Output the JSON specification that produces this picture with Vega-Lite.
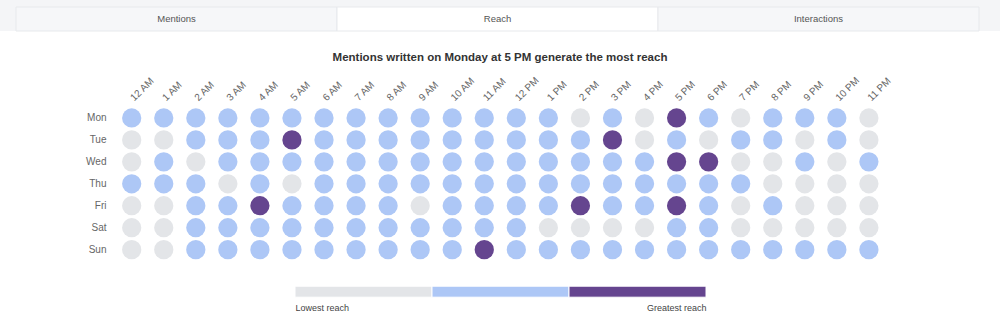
{
  "$schema": "https://vega.github.io/schema/vega-lite/v6.json",
  "background": "white",
  "padding": 0,
  "spacing": 20,
  "resolve": {"scale": {"color": "independent", "x": "independent", "y": "independent"}},
  "config": {"view": {"stroke": null}, "font": "Liberation Sans"},
  "vconcat": [
    {
      "width": 1000,
      "height": 31,
      "view": {"fill": "#f4f5f7", "stroke": null},
      "data": {"values": [
        {"tab": "Mentions", "state": "unselected", "group": "tabs"},
        {"tab": "Reach", "state": "selected", "group": "tabs"},
        {"tab": "Interactions", "state": "unselected", "group": "tabs"}
      ]},
      "encoding": {
        "x": {"field": "tab", "type": "nominal", "sort": null, "axis": null,
              "scale": {"type": "band", "range": [16, 979], "paddingInner": 0, "paddingOuter": 0}},
        "y": {"field": "group", "type": "nominal", "axis": null,
              "scale": {"type": "band", "paddingInner": 0, "paddingOuter": 0.14583, "align": 1}}
      },
      "layer": [
        {"mark": {"type": "bar", "stroke": "#e7e9ec", "strokeWidth": 1},
         "encoding": {"color": {"field": "state", "type": "nominal", "legend": null,
           "scale": {"domain": ["unselected", "selected"], "range": ["#f6f7f9", "#ffffff"]}}}},
        {"mark": {"type": "text", "fontSize": 9.5, "color": "#555555"},
         "encoding": {"text": {"field": "tab"}}}
      ]
    },
    {
      "width": 1000,
      "height": 153.6,
      "title": {"text": "Mentions written on Monday at 5 PM generate the most reach", "fontSize": 11.5, "fontWeight": "bold", "color": "#333333", "offset": 11.5, "anchor": "middle"},
      "data": {"values": [
        {"day":"Mon","hour":"12 AM","reach":"Medium"},{"day":"Mon","hour":"1 AM","reach":"Medium"},{"day":"Mon","hour":"2 AM","reach":"Medium"},{"day":"Mon","hour":"3 AM","reach":"Medium"},{"day":"Mon","hour":"4 AM","reach":"Medium"},{"day":"Mon","hour":"5 AM","reach":"Medium"},{"day":"Mon","hour":"6 AM","reach":"Medium"},{"day":"Mon","hour":"7 AM","reach":"Medium"},{"day":"Mon","hour":"8 AM","reach":"Medium"},{"day":"Mon","hour":"9 AM","reach":"Medium"},{"day":"Mon","hour":"10 AM","reach":"Medium"},{"day":"Mon","hour":"11 AM","reach":"Medium"},
        {"day":"Mon","hour":"12 PM","reach":"Medium"},{"day":"Mon","hour":"1 PM","reach":"Medium"},{"day":"Mon","hour":"2 PM","reach":"Low"},{"day":"Mon","hour":"3 PM","reach":"Medium"},{"day":"Mon","hour":"4 PM","reach":"Low"},{"day":"Mon","hour":"5 PM","reach":"High"},{"day":"Mon","hour":"6 PM","reach":"Medium"},{"day":"Mon","hour":"7 PM","reach":"Low"},{"day":"Mon","hour":"8 PM","reach":"Medium"},{"day":"Mon","hour":"9 PM","reach":"Medium"},{"day":"Mon","hour":"10 PM","reach":"Medium"},{"day":"Mon","hour":"11 PM","reach":"Low"},
        {"day":"Tue","hour":"12 AM","reach":"Low"},{"day":"Tue","hour":"1 AM","reach":"Low"},{"day":"Tue","hour":"2 AM","reach":"Medium"},{"day":"Tue","hour":"3 AM","reach":"Medium"},{"day":"Tue","hour":"4 AM","reach":"Medium"},{"day":"Tue","hour":"5 AM","reach":"High"},{"day":"Tue","hour":"6 AM","reach":"Medium"},{"day":"Tue","hour":"7 AM","reach":"Medium"},{"day":"Tue","hour":"8 AM","reach":"Medium"},{"day":"Tue","hour":"9 AM","reach":"Medium"},{"day":"Tue","hour":"10 AM","reach":"Medium"},{"day":"Tue","hour":"11 AM","reach":"Medium"},
        {"day":"Tue","hour":"12 PM","reach":"Medium"},{"day":"Tue","hour":"1 PM","reach":"Medium"},{"day":"Tue","hour":"2 PM","reach":"Medium"},{"day":"Tue","hour":"3 PM","reach":"High"},{"day":"Tue","hour":"4 PM","reach":"Low"},{"day":"Tue","hour":"5 PM","reach":"Medium"},{"day":"Tue","hour":"6 PM","reach":"Low"},{"day":"Tue","hour":"7 PM","reach":"Medium"},{"day":"Tue","hour":"8 PM","reach":"Medium"},{"day":"Tue","hour":"9 PM","reach":"Low"},{"day":"Tue","hour":"10 PM","reach":"Medium"},{"day":"Tue","hour":"11 PM","reach":"Low"},
        {"day":"Wed","hour":"12 AM","reach":"Low"},{"day":"Wed","hour":"1 AM","reach":"Medium"},{"day":"Wed","hour":"2 AM","reach":"Low"},{"day":"Wed","hour":"3 AM","reach":"Medium"},{"day":"Wed","hour":"4 AM","reach":"Medium"},{"day":"Wed","hour":"5 AM","reach":"Medium"},{"day":"Wed","hour":"6 AM","reach":"Medium"},{"day":"Wed","hour":"7 AM","reach":"Medium"},{"day":"Wed","hour":"8 AM","reach":"Medium"},{"day":"Wed","hour":"9 AM","reach":"Medium"},{"day":"Wed","hour":"10 AM","reach":"Medium"},{"day":"Wed","hour":"11 AM","reach":"Medium"},
        {"day":"Wed","hour":"12 PM","reach":"Medium"},{"day":"Wed","hour":"1 PM","reach":"Medium"},{"day":"Wed","hour":"2 PM","reach":"Medium"},{"day":"Wed","hour":"3 PM","reach":"Medium"},{"day":"Wed","hour":"4 PM","reach":"Medium"},{"day":"Wed","hour":"5 PM","reach":"High"},{"day":"Wed","hour":"6 PM","reach":"High"},{"day":"Wed","hour":"7 PM","reach":"Low"},{"day":"Wed","hour":"8 PM","reach":"Low"},{"day":"Wed","hour":"9 PM","reach":"Medium"},{"day":"Wed","hour":"10 PM","reach":"Low"},{"day":"Wed","hour":"11 PM","reach":"Medium"},
        {"day":"Thu","hour":"12 AM","reach":"Medium"},{"day":"Thu","hour":"1 AM","reach":"Medium"},{"day":"Thu","hour":"2 AM","reach":"Medium"},{"day":"Thu","hour":"3 AM","reach":"Low"},{"day":"Thu","hour":"4 AM","reach":"Medium"},{"day":"Thu","hour":"5 AM","reach":"Low"},{"day":"Thu","hour":"6 AM","reach":"Medium"},{"day":"Thu","hour":"7 AM","reach":"Medium"},{"day":"Thu","hour":"8 AM","reach":"Medium"},{"day":"Thu","hour":"9 AM","reach":"Medium"},{"day":"Thu","hour":"10 AM","reach":"Medium"},{"day":"Thu","hour":"11 AM","reach":"Medium"},
        {"day":"Thu","hour":"12 PM","reach":"Medium"},{"day":"Thu","hour":"1 PM","reach":"Medium"},{"day":"Thu","hour":"2 PM","reach":"Medium"},{"day":"Thu","hour":"3 PM","reach":"Medium"},{"day":"Thu","hour":"4 PM","reach":"Medium"},{"day":"Thu","hour":"5 PM","reach":"Medium"},{"day":"Thu","hour":"6 PM","reach":"Medium"},{"day":"Thu","hour":"7 PM","reach":"Medium"},{"day":"Thu","hour":"8 PM","reach":"Low"},{"day":"Thu","hour":"9 PM","reach":"Low"},{"day":"Thu","hour":"10 PM","reach":"Low"},{"day":"Thu","hour":"11 PM","reach":"Low"},
        {"day":"Fri","hour":"12 AM","reach":"Low"},{"day":"Fri","hour":"1 AM","reach":"Low"},{"day":"Fri","hour":"2 AM","reach":"Medium"},{"day":"Fri","hour":"3 AM","reach":"Medium"},{"day":"Fri","hour":"4 AM","reach":"High"},{"day":"Fri","hour":"5 AM","reach":"Medium"},{"day":"Fri","hour":"6 AM","reach":"Medium"},{"day":"Fri","hour":"7 AM","reach":"Medium"},{"day":"Fri","hour":"8 AM","reach":"Medium"},{"day":"Fri","hour":"9 AM","reach":"Low"},{"day":"Fri","hour":"10 AM","reach":"Medium"},{"day":"Fri","hour":"11 AM","reach":"Medium"},
        {"day":"Fri","hour":"12 PM","reach":"Medium"},{"day":"Fri","hour":"1 PM","reach":"Medium"},{"day":"Fri","hour":"2 PM","reach":"High"},{"day":"Fri","hour":"3 PM","reach":"Medium"},{"day":"Fri","hour":"4 PM","reach":"Medium"},{"day":"Fri","hour":"5 PM","reach":"High"},{"day":"Fri","hour":"6 PM","reach":"Medium"},{"day":"Fri","hour":"7 PM","reach":"Low"},{"day":"Fri","hour":"8 PM","reach":"Medium"},{"day":"Fri","hour":"9 PM","reach":"Low"},{"day":"Fri","hour":"10 PM","reach":"Low"},{"day":"Fri","hour":"11 PM","reach":"Low"},
        {"day":"Sat","hour":"12 AM","reach":"Low"},{"day":"Sat","hour":"1 AM","reach":"Low"},{"day":"Sat","hour":"2 AM","reach":"Medium"},{"day":"Sat","hour":"3 AM","reach":"Medium"},{"day":"Sat","hour":"4 AM","reach":"Medium"},{"day":"Sat","hour":"5 AM","reach":"Medium"},{"day":"Sat","hour":"6 AM","reach":"Medium"},{"day":"Sat","hour":"7 AM","reach":"Medium"},{"day":"Sat","hour":"8 AM","reach":"Medium"},{"day":"Sat","hour":"9 AM","reach":"Medium"},{"day":"Sat","hour":"10 AM","reach":"Medium"},{"day":"Sat","hour":"11 AM","reach":"Medium"},
        {"day":"Sat","hour":"12 PM","reach":"Medium"},{"day":"Sat","hour":"1 PM","reach":"Low"},{"day":"Sat","hour":"2 PM","reach":"Low"},{"day":"Sat","hour":"3 PM","reach":"Low"},{"day":"Sat","hour":"4 PM","reach":"Low"},{"day":"Sat","hour":"5 PM","reach":"Medium"},{"day":"Sat","hour":"6 PM","reach":"Medium"},{"day":"Sat","hour":"7 PM","reach":"Low"},{"day":"Sat","hour":"8 PM","reach":"Low"},{"day":"Sat","hour":"9 PM","reach":"Low"},{"day":"Sat","hour":"10 PM","reach":"Low"},{"day":"Sat","hour":"11 PM","reach":"Low"},
        {"day":"Sun","hour":"12 AM","reach":"Low"},{"day":"Sun","hour":"1 AM","reach":"Low"},{"day":"Sun","hour":"2 AM","reach":"Medium"},{"day":"Sun","hour":"3 AM","reach":"Medium"},{"day":"Sun","hour":"4 AM","reach":"Medium"},{"day":"Sun","hour":"5 AM","reach":"Medium"},{"day":"Sun","hour":"6 AM","reach":"Medium"},{"day":"Sun","hour":"7 AM","reach":"Medium"},{"day":"Sun","hour":"8 AM","reach":"Medium"},{"day":"Sun","hour":"9 AM","reach":"Medium"},{"day":"Sun","hour":"10 AM","reach":"Medium"},{"day":"Sun","hour":"11 AM","reach":"High"},
        {"day":"Sun","hour":"12 PM","reach":"Medium"},{"day":"Sun","hour":"1 PM","reach":"Medium"},{"day":"Sun","hour":"2 PM","reach":"Medium"},{"day":"Sun","hour":"3 PM","reach":"Medium"},{"day":"Sun","hour":"4 PM","reach":"Medium"},{"day":"Sun","hour":"5 PM","reach":"Medium"},{"day":"Sun","hour":"6 PM","reach":"Medium"},{"day":"Sun","hour":"7 PM","reach":"Medium"},{"day":"Sun","hour":"8 PM","reach":"Medium"},{"day":"Sun","hour":"9 PM","reach":"Medium"},{"day":"Sun","hour":"10 PM","reach":"Medium"},{"day":"Sun","hour":"11 PM","reach":"Medium"}
      ]},
      "mark": {"type": "circle", "size": 370, "opacity": 1},
      "encoding": {
        "x": {"field": "hour", "type": "ordinal",
              "sort": ["12 AM","1 AM","2 AM","3 AM","4 AM","5 AM","6 AM","7 AM","8 AM","9 AM","10 AM","11 AM","12 PM","1 PM","2 PM","3 PM","4 PM","5 PM","6 PM","7 PM","8 PM","9 PM","10 PM","11 PM"],
              "scale": {"type": "point", "range": [131.7, 868.9], "padding": 0},
              "axis": {"orient": "top", "title": null, "ticks": false, "domain": false, "grid": false,
                       "labelAngle": -45, "labelAlign": "left", "labelBaseline": "middle", "labelPadding": 8,
                       "labelFontSize": 10, "labelColor": "#666666"}},
        "y": {"field": "day", "type": "ordinal",
              "sort": ["Mon","Tue","Wed","Thu","Fri","Sat","Sun"],
              "scale": {"type": "point", "padding": 0.5},
              "axis": {"title": null, "ticks": false, "domain": false, "grid": false, "offset": -106,
                       "labelPadding": 0, "labelFontSize": 10, "labelColor": "#666666"}},
        "color": {"field": "reach", "type": "nominal", "legend": null,
                  "scale": {"domain": ["Low", "Medium", "High"], "range": ["#e3e5e8", "#adc7f6", "#65458f"]}}
      }
    },
    {
      "width": 1000,
      "height": 16.2,
      "data": {"values": [
        {"reach": "Low", "from": 0, "to": 1, "group": "legend"},
        {"reach": "Medium", "from": 1, "to": 2, "group": "legend"},
        {"reach": "High", "from": 2, "to": 3, "group": "legend"}
      ]},
      "mark": {"type": "bar", "stroke": "#ffffff", "strokeWidth": 1},
      "encoding": {
        "x": {"field": "from", "type": "quantitative",
              "scale": {"domain": [0, 3], "range": [295, 706], "nice": false, "zero": false},
              "axis": {"title": null, "values": [0, 3], "ticks": false, "domain": false, "grid": false,
                       "labelExpr": "datum.value == 0 ? 'Lowest reach' : 'Greatest reach'",
                       "labelAlign": {"condition": {"test": "datum.value == 0", "value": "left"}, "value": "right"},
                       "labelPadding": 6, "labelFontSize": 9, "labelColor": "#444444", "labelFlush": false}},
        "x2": {"field": "to"},
        "y": {"field": "group", "type": "nominal", "axis": null,
              "scale": {"type": "band", "paddingInner": 0, "paddingOuter": 0.236, "align": 1}},
        "color": {"field": "reach", "type": "nominal", "legend": null,
                  "scale": {"domain": ["Low", "Medium", "High"], "range": ["#e3e5e8", "#adc7f6", "#65458f"]}}
      }
    }
  ]
}
